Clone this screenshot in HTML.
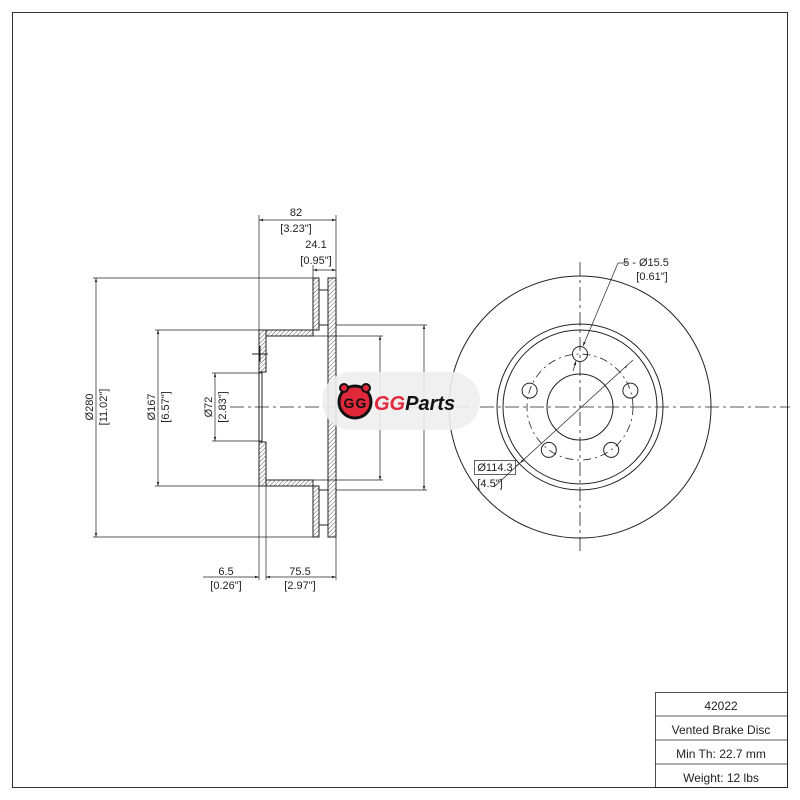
<!DOCTYPE html>
<html><head><style>
body{margin:0;background:#fff}
svg{display:block;font-family:"Liberation Sans",sans-serif}
</style></head><body>
<svg width="800" height="800" viewBox="0 0 800 800" xmlns="http://www.w3.org/2000/svg">
<defs>
<pattern id="h" width="3" height="3" patternUnits="userSpaceOnUse" patternTransform="rotate(45)"><line x1="0" y1="0" x2="0" y2="3" stroke="#333" stroke-width="0.8"/></pattern>
<marker id="a" viewBox="0 0 10 10" refX="10" refY="5" markerWidth="6" markerHeight="6" orient="auto-start-reverse"><path d="M0,2 L10,5 L0,8z" fill="#222"/></marker>
</defs>
<rect x="12.5" y="12.5" width="775" height="775" fill="none" stroke="#333" stroke-width="1"/>
<g stroke="#222" stroke-width="1" fill="none">
<!-- side view -->
<path d="M313,278 H319 V330 H266 V336 H313 V278 Z" fill="url(#h)"/>
<path d="M259,330 H266 V372 H259 Z M259,442 H266 V486 H259 Z" fill="url(#h)"/>
<path d="M313,537 H319 V486 H266 V480 H313 V537 Z" fill="url(#h)"/>
<path d="M328,278 H336 V537 H328 Z" fill="url(#h)"/>
<line x1="259" y1="330" x2="259" y2="486"/>
<line x1="262" y1="372" x2="262" y2="442"/>
<line x1="319" y1="290" x2="328" y2="290"/><line x1="319" y1="325" x2="328" y2="325"/>
<line x1="319" y1="490" x2="328" y2="490"/><line x1="319" y1="525" x2="328" y2="525"/>
<line x1="252" y1="354" x2="268" y2="354"/><line x1="260" y1="346" x2="260" y2="362"/>
<!-- extension lines -->
<g stroke-width="0.7">
<line x1="93" y1="278" x2="313" y2="278"/><line x1="93" y1="537" x2="313" y2="537"/>
<line x1="155" y1="330" x2="259" y2="330"/><line x1="155" y1="486" x2="259" y2="486"/>
<line x1="212" y1="373" x2="262" y2="373"/><line x1="212" y1="441" x2="262" y2="441"/>
<line x1="336" y1="325" x2="427" y2="325"/><line x1="336" y1="490" x2="427" y2="490"/>
<line x1="266" y1="336" x2="383" y2="336"/><line x1="266" y1="480" x2="383" y2="480"/>
<line x1="259" y1="215" x2="259" y2="580"/><line x1="266" y1="486" x2="266" y2="580"/>
<line x1="336" y1="215" x2="336" y2="580"/><line x1="313" y1="265" x2="313" y2="278"/>
<line x1="96" y1="278" x2="96" y2="537" marker-start="url(#a)" marker-end="url(#a)"/>
<line x1="158" y1="330" x2="158" y2="486" marker-start="url(#a)" marker-end="url(#a)"/>
<line x1="215" y1="373" x2="215" y2="441" marker-start="url(#a)" marker-end="url(#a)"/>
<line x1="380" y1="336" x2="380" y2="480" marker-start="url(#a)" marker-end="url(#a)"/>
<line x1="424" y1="325" x2="424" y2="490" marker-start="url(#a)" marker-end="url(#a)"/>
<line x1="259" y1="220" x2="336" y2="220" marker-start="url(#a)" marker-end="url(#a)"/>
<line x1="313" y1="270" x2="336" y2="270" marker-start="url(#a)" marker-end="url(#a)"/>
<line x1="203" y1="577" x2="259" y2="577" marker-end="url(#a)"/>
<line x1="266" y1="577" x2="336" y2="577" marker-start="url(#a)" marker-end="url(#a)"/>
</g>
<line x1="230" y1="407" x2="790" y2="407" stroke-width="0.8" stroke-dasharray="14,4,3,4"/>
<!-- front view -->
<circle cx="580" cy="407" r="131"/>
<circle cx="580" cy="407" r="83"/>
<circle cx="580" cy="407" r="77"/>
<circle cx="580" cy="407" r="33"/>
<circle cx="580" cy="407" r="53" stroke-dasharray="8,4,2,4" stroke-width="0.8"/>
<circle cx="580" cy="354" r="7.5"/>
<circle cx="630.4" cy="390.6" r="7.5"/>
<circle cx="611.2" cy="449.9" r="7.5"/>
<circle cx="548.8" cy="449.9" r="7.5"/>
<circle cx="529.6" cy="390.6" r="7.5"/>
<line x1="580" y1="262" x2="580" y2="555" stroke-width="0.8" stroke-dasharray="14,4,3,4"/>
<line x1="618" y1="263" x2="627" y2="263" stroke-width="0.7"/>
<polyline points="618,263 583,346" stroke-width="0.7" marker-end="url(#a)"/>
<line x1="576" y1="361" x2="573" y2="371" stroke-width="0.7" marker-start="url(#a)"/>
<line x1="633" y1="360" x2="520" y2="463" stroke-width="0.7" marker-end="url(#a)"/>
<line x1="520" y1="463" x2="516" y2="466" stroke-width="0.7"/>
<line x1="520" y1="463" x2="494" y2="487" stroke-width="0.7"/>
<line x1="625" y1="368" x2="627" y2="366" stroke-width="0.7"/>
<rect x="474.5" y="460.5" width="41" height="14" stroke-width="0.7"/>
<!-- title block -->
<rect x="655.5" y="692.5" width="132" height="95" stroke-width="0.8"/>
<line x1="655" y1="716" x2="788" y2="716" stroke-width="0.8"/>
<line x1="655" y1="740" x2="788" y2="740" stroke-width="0.8"/>
<line x1="655" y1="764" x2="788" y2="764" stroke-width="0.8"/>
</g>
<g font-size="11" fill="#222" text-anchor="middle">
<text x="296" y="216">82</text><text x="296" y="232">[3.23"]</text>
<text x="316" y="248">24.1</text><text x="316" y="264">[0.95"]</text>
<text x="226" y="575">6.5</text><text x="226" y="589">[0.26"]</text>
<text x="300" y="575">75.5</text><text x="300" y="589">[2.97"]</text>
<text transform="translate(93,407) rotate(-90)">Ø280</text>
<text transform="translate(107,407) rotate(-90)">[11.02"]</text>
<text transform="translate(155,407) rotate(-90)">Ø167</text>
<text transform="translate(169,407) rotate(-90)">[6.57"]</text>
<text transform="translate(212,407) rotate(-90)">Ø72</text>
<text transform="translate(226,407) rotate(-90)">[2.83"]</text>
<text x="646" y="266">5 - Ø15.5</text><text x="652" y="280">[0.61"]</text>
<text x="495" y="471">Ø114.3</text><text x="490" y="487">[4.5"]</text>
<text x="721" y="710" font-size="12">42022</text>
<text x="721" y="734" font-size="12">Vented Brake Disc</text>
<text x="721" y="758" font-size="12">Min Th: 22.7 mm</text>
<text x="721" y="782" font-size="12">Weight: 12 lbs</text>
</g>
<!-- logo -->
<rect x="322" y="372" width="158" height="58" rx="29" fill="#eee" opacity="0.9"/>
<circle cx="355" cy="402" r="16" fill="#e0283a" stroke="#111" stroke-width="3"/>
<circle cx="344" cy="388" r="4" fill="#e0283a" stroke="#111" stroke-width="2"/>
<circle cx="366" cy="388" r="4" fill="#e0283a" stroke="#111" stroke-width="2"/>
<text x="349" y="408" font-size="14" font-weight="bold" fill="#111" text-anchor="middle">G</text>
<text x="361" y="408" font-size="14" font-weight="bold" fill="#111" text-anchor="middle">G</text>
<text x="374" y="410" font-size="20" font-weight="bold" font-style="italic" fill="#e0283a">GG<tspan fill="#111">Parts</tspan></text>
</svg>
</body></html>
